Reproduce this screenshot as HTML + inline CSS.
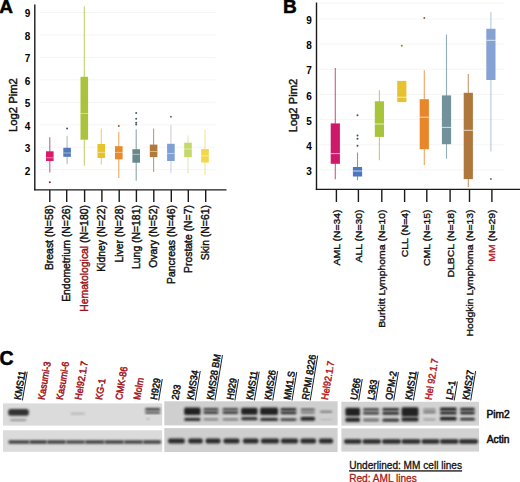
<!DOCTYPE html>
<html><head><meta charset="utf-8"><style>
html,body{margin:0;padding:0;background:#fff;width:520px;height:482px;overflow:hidden}
svg{display:block;font-family:"Liberation Sans", sans-serif}
.t{stroke-width:0.42px}
</style></head><body>
<svg width="520" height="482" viewBox="0 0 520 482">
<text x="-0.7" y="12.9" font-size="19" font-weight="bold" stroke="#000" stroke-width="0.5">A</text>
<line x1="39.5" x2="215.5" y1="169.7" y2="169.7" stroke="#f5f5f5" stroke-width="1"/>
<line x1="39.5" x2="215.5" y1="147.2" y2="147.2" stroke="#f5f5f5" stroke-width="1"/>
<line x1="39.5" x2="215.5" y1="124.8" y2="124.8" stroke="#f5f5f5" stroke-width="1"/>
<line x1="39.5" x2="215.5" y1="102.3" y2="102.3" stroke="#f5f5f5" stroke-width="1"/>
<line x1="39.5" x2="215.5" y1="79.8" y2="79.8" stroke="#f5f5f5" stroke-width="1"/>
<line x1="39.5" x2="215.5" y1="57.4" y2="57.4" stroke="#f5f5f5" stroke-width="1"/>
<line x1="39.5" x2="215.5" y1="35.0" y2="35.0" stroke="#f5f5f5" stroke-width="1"/>
<line x1="39.5" x2="215.5" y1="12.5" y2="12.5" stroke="#f5f5f5" stroke-width="1"/>
<text x="30.3" y="174.6" font-size="10" font-weight="bold" text-anchor="end">2</text>
<text x="30.3" y="152.1" font-size="10" font-weight="bold" text-anchor="end">3</text>
<text x="30.3" y="129.7" font-size="10" font-weight="bold" text-anchor="end">4</text>
<text x="30.3" y="107.2" font-size="10" font-weight="bold" text-anchor="end">5</text>
<text x="30.3" y="84.7" font-size="10" font-weight="bold" text-anchor="end">6</text>
<text x="30.3" y="62.3" font-size="10" font-weight="bold" text-anchor="end">7</text>
<text x="30.3" y="39.9" font-size="10" font-weight="bold" text-anchor="end">8</text>
<text x="30.3" y="17.4" font-size="10" font-weight="bold" text-anchor="end">9</text>
<line x1="34.8" x2="34.8" y1="4.5" y2="190.3" stroke="#1a1a1a" stroke-width="1.4"/>
<line x1="34.1" x2="226.5" y1="189.9" y2="189.9" stroke="#1a1a1a" stroke-width="1.4"/>
<text transform="translate(16.9,132.1) rotate(-90)" font-size="11.3" fill="#111" stroke="#111" class="t">Log2 Pim2</text>
<line x1="49.8" x2="49.8" y1="137.2" y2="172.5" stroke="#a8306a" stroke-width="1.1" opacity="0.75"/>
<rect x="46.00" y="151.3" width="7.6" height="9.70" fill="#d81b6a"/>
<line x1="46.00" x2="53.60" y1="157.8" y2="157.8" stroke="#fff" stroke-width="1" opacity="0.45"/>
<circle cx="49.8" cy="182.2" r="1.0" fill="rgb(151,18,74)"/>
<line x1="49.8" x2="49.8" y1="189.9" y2="202" stroke="#1a1a1a" stroke-width="1.4"/>
<text transform="translate(53.1,205.1) rotate(-90) scale(1.0,1)" font-size="10.4" text-anchor="end" fill="#111" stroke="#111" stroke-width="0.42">Breast (N=58)</text>
<line x1="67.1" x2="67.1" y1="136.0" y2="164.0" stroke="#9ea4b4" stroke-width="1.1" opacity="0.75"/>
<rect x="63.30" y="147.8" width="7.6" height="9.00" fill="#5479bb"/>
<line x1="63.30" x2="70.90" y1="153.0" y2="153.0" stroke="#fff" stroke-width="1" opacity="0.45"/>
<circle cx="67.1" cy="128.5" r="1.0" fill="rgb(58,84,130)"/>
<line x1="66.7" x2="66.7" y1="189.9" y2="202" stroke="#1a1a1a" stroke-width="1.4"/>
<text transform="translate(70.0,205.1) rotate(-90) scale(1.0,1)" font-size="10.4" text-anchor="end" fill="#111" stroke="#111" stroke-width="0.42">Endometrium (N=26)</text>
<line x1="84.3" x2="84.3" y1="6.6" y2="165.8" stroke="#a9c43c" stroke-width="1.1" opacity="0.75"/>
<rect x="80.50" y="76.8" width="7.6" height="62.90" fill="#a9c43c"/>
<line x1="80.50" x2="88.10" y1="113.5" y2="113.5" stroke="#fff" stroke-width="1" opacity="0.45"/>
<line x1="84.6" x2="84.6" y1="189.9" y2="202" stroke="#1a1a1a" stroke-width="1.4"/>
<text transform="translate(87.9,205.1) rotate(-90) scale(1.0,1)" font-size="10.4" text-anchor="end" fill="#111" stroke="#111" stroke-width="0.42"><tspan fill="#9c1218" stroke="#9c1218">Hematological</tspan> (N=180)</text>
<line x1="101.3" x2="101.3" y1="128.5" y2="164.5" stroke="#e8c22a" stroke-width="1.1" opacity="0.75"/>
<rect x="97.50" y="144.0" width="7.6" height="14.00" fill="#e8c22a"/>
<line x1="97.50" x2="105.10" y1="152.4" y2="152.4" stroke="#fff" stroke-width="1" opacity="0.45"/>
<line x1="101.9" x2="101.9" y1="189.9" y2="202" stroke="#1a1a1a" stroke-width="1.4"/>
<text transform="translate(105.2,205.1) rotate(-90) scale(1.0,1)" font-size="10.4" text-anchor="end" fill="#111" stroke="#111" stroke-width="0.42">Kidney (N=22)</text>
<line x1="118.8" x2="118.8" y1="132.0" y2="178.0" stroke="#e8892a" stroke-width="1.1" opacity="0.75"/>
<rect x="115.00" y="146.2" width="7.6" height="13.10" fill="#e8892a"/>
<line x1="115.00" x2="122.60" y1="152.4" y2="152.4" stroke="#fff" stroke-width="1" opacity="0.45"/>
<circle cx="118.8" cy="126.0" r="1.0" fill="rgb(162,95,29)"/>
<line x1="119.2" x2="119.2" y1="189.9" y2="202" stroke="#1a1a1a" stroke-width="1.4"/>
<text transform="translate(122.5,205.1) rotate(-90) scale(1.0,1)" font-size="10.4" text-anchor="end" fill="#111" stroke="#111" stroke-width="0.42">Liver (N=28)</text>
<line x1="136.2" x2="136.2" y1="129.2" y2="180.8" stroke="#68898c" stroke-width="1.1" opacity="0.75"/>
<rect x="132.40" y="149.2" width="7.6" height="13.50" fill="#68898c"/>
<line x1="132.40" x2="140.00" y1="154.4" y2="154.4" stroke="#fff" stroke-width="1" opacity="0.45"/>
<circle cx="136.2" cy="113.0" r="1.0" fill="rgb(72,95,98)"/>
<circle cx="136.2" cy="118.7" r="1.0" fill="rgb(72,95,98)"/>
<circle cx="136.2" cy="122.7" r="1.0" fill="rgb(72,95,98)"/>
<circle cx="136.2" cy="124.6" r="1.0" fill="rgb(72,95,98)"/>
<line x1="136.4" x2="136.4" y1="189.9" y2="202" stroke="#1a1a1a" stroke-width="1.4"/>
<text transform="translate(139.7,205.1) rotate(-90) scale(1.0,1)" font-size="10.4" text-anchor="end" fill="#111" stroke="#111" stroke-width="0.42">Lung (N=181)</text>
<line x1="153.6" x2="153.6" y1="128.5" y2="172.0" stroke="#b07a3c" stroke-width="1.1" opacity="0.75"/>
<rect x="149.80" y="144.6" width="7.6" height="12.50" fill="#b07a3c"/>
<line x1="149.80" x2="157.40" y1="151.5" y2="151.5" stroke="#fff" stroke-width="1" opacity="0.45"/>
<line x1="153.8" x2="153.8" y1="189.9" y2="202" stroke="#1a1a1a" stroke-width="1.4"/>
<text transform="translate(157.1,205.1) rotate(-90) scale(1.0,1)" font-size="10.4" text-anchor="end" fill="#111" stroke="#111" stroke-width="0.42">Ovary (N=52)</text>
<line x1="170.9" x2="170.9" y1="125.0" y2="172.7" stroke="#bcc2cf" stroke-width="1.1" opacity="0.75"/>
<rect x="167.10" y="143.8" width="7.6" height="17.20" fill="#7f9fd6"/>
<line x1="167.10" x2="174.70" y1="153.5" y2="153.5" stroke="#fff" stroke-width="1" opacity="0.45"/>
<circle cx="170.9" cy="116.7" r="1.0" fill="rgb(88,111,149)"/>
<line x1="171.3" x2="171.3" y1="189.9" y2="202" stroke="#1a1a1a" stroke-width="1.4"/>
<text transform="translate(174.6,205.1) rotate(-90) scale(1.0,1)" font-size="10.4" text-anchor="end" fill="#111" stroke="#111" stroke-width="0.42">Pancreas (N=46)</text>
<line x1="188.0" x2="188.0" y1="135.6" y2="173.0" stroke="#d6e096" stroke-width="1.1" opacity="0.75"/>
<rect x="184.20" y="142.7" width="7.6" height="14.40" fill="#c5d86a"/>
<line x1="184.20" x2="191.80" y1="149.0" y2="149.0" stroke="#fff" stroke-width="1" opacity="0.45"/>
<line x1="188.3" x2="188.3" y1="189.9" y2="202" stroke="#1a1a1a" stroke-width="1.4"/>
<text transform="translate(191.6,205.1) rotate(-90) scale(1.0,1)" font-size="10.4" text-anchor="end" fill="#111" stroke="#111" stroke-width="0.42">Prostate (N=7)</text>
<line x1="205.0" x2="205.0" y1="129.8" y2="175.0" stroke="#f0dc70" stroke-width="1.1" opacity="0.75"/>
<rect x="201.20" y="149.0" width="7.6" height="13.50" fill="#f0d84a"/>
<line x1="201.20" x2="208.80" y1="155.8" y2="155.8" stroke="#fff" stroke-width="1" opacity="0.45"/>
<line x1="205.7" x2="205.7" y1="189.9" y2="202" stroke="#1a1a1a" stroke-width="1.4"/>
<text transform="translate(209.0,205.1) rotate(-90) scale(1.0,1)" font-size="10.4" text-anchor="end" fill="#111" stroke="#111" stroke-width="0.42">Skin (N=61)</text>
<text x="283.0" y="12.9" font-size="19" font-weight="bold" stroke="#000" stroke-width="0.5">B</text>
<line x1="319" x2="504" y1="3.1" y2="3.1" stroke="#f3f3f3" stroke-width="1"/>
<line x1="319" x2="504" y1="169.9" y2="169.9" stroke="#f5f5f5" stroke-width="1"/>
<line x1="319" x2="504" y1="144.8" y2="144.8" stroke="#f5f5f5" stroke-width="1"/>
<line x1="319" x2="504" y1="119.6" y2="119.6" stroke="#f5f5f5" stroke-width="1"/>
<line x1="319" x2="504" y1="94.4" y2="94.4" stroke="#f5f5f5" stroke-width="1"/>
<line x1="319" x2="504" y1="69.3" y2="69.3" stroke="#f5f5f5" stroke-width="1"/>
<line x1="319" x2="504" y1="44.1" y2="44.1" stroke="#f5f5f5" stroke-width="1"/>
<line x1="319" x2="504" y1="19.0" y2="19.0" stroke="#f5f5f5" stroke-width="1"/>
<text x="311.8" y="175.0" font-size="10" font-weight="bold" text-anchor="end">3</text>
<text x="311.8" y="149.8" font-size="10" font-weight="bold" text-anchor="end">4</text>
<text x="311.8" y="124.7" font-size="10" font-weight="bold" text-anchor="end">5</text>
<text x="311.8" y="99.5" font-size="10" font-weight="bold" text-anchor="end">6</text>
<text x="311.8" y="74.4" font-size="10" font-weight="bold" text-anchor="end">7</text>
<text x="311.8" y="49.2" font-size="10" font-weight="bold" text-anchor="end">8</text>
<text x="311.8" y="24.1" font-size="10" font-weight="bold" text-anchor="end">9</text>
<line x1="316.5" x2="316.5" y1="2.5" y2="190.1" stroke="#1a1a1a" stroke-width="1.4"/>
<line x1="315.8" x2="520" y1="189.4" y2="189.4" stroke="#1a1a1a" stroke-width="1.4"/>
<text transform="translate(297.3,132.3) rotate(-90)" font-size="11.2" fill="#111" stroke="#111" class="t">Log2 Pim2</text>
<line x1="335.3" x2="335.3" y1="68.0" y2="179.2" stroke="#d0186a" stroke-width="1.1" opacity="0.75"/>
<rect x="330.70" y="123.4" width="9.2" height="40.40" fill="#d0186a"/>
<line x1="330.70" x2="339.90" y1="153.6" y2="153.6" stroke="#fff" stroke-width="1" opacity="0.7"/>
<line x1="336.4" x2="336.4" y1="189.4" y2="202" stroke="#1a1a1a" stroke-width="1.4"/>
<text transform="translate(339.8,209.5) rotate(-90) scale(1.118,1)" font-size="9.3" text-anchor="end" fill="#111" stroke="#111" stroke-width="0.35">AML (N=34)</text>
<line x1="357.5" x2="357.5" y1="152.5" y2="180.3" stroke="#4a78c0" stroke-width="1.1" opacity="0.75"/>
<rect x="352.90" y="167.0" width="9.2" height="9.50" fill="#4a78c0"/>
<line x1="352.90" x2="362.10" y1="171.0" y2="171.0" stroke="#fff" stroke-width="1" opacity="0.7"/>
<circle cx="357.5" cy="115.3" r="1.0" fill="rgb(51,84,134)"/>
<circle cx="357.5" cy="135.5" r="1.0" fill="rgb(51,84,134)"/>
<circle cx="357.5" cy="138.7" r="1.0" fill="rgb(51,84,134)"/>
<circle cx="357.5" cy="145.8" r="1.0" fill="rgb(51,84,134)"/>
<line x1="358.4" x2="358.4" y1="189.4" y2="202" stroke="#1a1a1a" stroke-width="1.4"/>
<text transform="translate(361.8,209.5) rotate(-90) scale(1.118,1)" font-size="9.3" text-anchor="end" fill="#111" stroke="#111" stroke-width="0.35">ALL (N=30)</text>
<line x1="379.4" x2="379.4" y1="90.2" y2="160.3" stroke="#a8c43a" stroke-width="1.1" opacity="0.75"/>
<rect x="374.80" y="101.3" width="9.2" height="35.60" fill="#a8c43a"/>
<line x1="374.80" x2="384.00" y1="124.0" y2="124.0" stroke="#fff" stroke-width="1" opacity="0.7"/>
<line x1="381.8" x2="381.8" y1="189.4" y2="202" stroke="#1a1a1a" stroke-width="1.4"/>
<text transform="translate(385.2,209.5) rotate(-90) scale(1.118,1)" font-size="9.3" text-anchor="end" fill="#111" stroke="#111" stroke-width="0.35">Burkitt Lymphoma (N=10)</text>
<rect x="397.20" y="80.9" width="9.2" height="21.20" fill="#e6c22e"/>
<line x1="397.20" x2="406.40" y1="97.2" y2="97.2" stroke="#fff" stroke-width="1" opacity="0.7"/>
<circle cx="401.8" cy="45.8" r="1.0" fill="rgb(161,135,32)"/>
<line x1="404.6" x2="404.6" y1="189.4" y2="202" stroke="#1a1a1a" stroke-width="1.4"/>
<text transform="translate(408.0,209.5) rotate(-90) scale(1.118,1)" font-size="9.3" text-anchor="end" fill="#111" stroke="#111" stroke-width="0.35">CLL (N=4)</text>
<line x1="424.3" x2="424.3" y1="70.2" y2="165.1" stroke="#e8862a" stroke-width="1.1" opacity="0.75"/>
<rect x="419.70" y="99.2" width="9.2" height="50.00" fill="#e8862a"/>
<line x1="419.70" x2="428.90" y1="117.2" y2="117.2" stroke="#fff" stroke-width="1" opacity="0.7"/>
<circle cx="424.3" cy="18.0" r="1.0" fill="rgb(162,93,29)"/>
<line x1="426.8" x2="426.8" y1="189.4" y2="202" stroke="#1a1a1a" stroke-width="1.4"/>
<text transform="translate(430.2,209.5) rotate(-90) scale(1.118,1)" font-size="9.3" text-anchor="end" fill="#111" stroke="#111" stroke-width="0.35">CML (N=15)</text>
<line x1="446.5" x2="446.5" y1="34.5" y2="158.7" stroke="#71929a" stroke-width="1.1" opacity="0.75"/>
<rect x="441.90" y="95.4" width="9.2" height="48.80" fill="#71929a"/>
<line x1="441.90" x2="451.10" y1="127.4" y2="127.4" stroke="#fff" stroke-width="1" opacity="0.7"/>
<line x1="450.1" x2="450.1" y1="189.4" y2="202" stroke="#1a1a1a" stroke-width="1.4"/>
<text transform="translate(453.5,209.5) rotate(-90) scale(1.118,1)" font-size="9.3" text-anchor="end" fill="#111" stroke="#111" stroke-width="0.35">DLBCL (N=18)</text>
<line x1="468.3" x2="468.3" y1="74.0" y2="187.2" stroke="#b0773c" stroke-width="1.1" opacity="0.75"/>
<rect x="463.70" y="92.8" width="9.2" height="86.30" fill="#b0773c"/>
<line x1="463.70" x2="472.90" y1="130.3" y2="130.3" stroke="#fff" stroke-width="1" opacity="0.7"/>
<line x1="469.5" x2="469.5" y1="189.4" y2="202" stroke="#1a1a1a" stroke-width="1.4"/>
<text transform="translate(472.9,209.5) rotate(-90) scale(1.118,1)" font-size="9.3" text-anchor="end" fill="#111" stroke="#111" stroke-width="0.35">Hodgkin Lymphoma (N=13)</text>
<line x1="490.9" x2="490.9" y1="12.1" y2="151.5" stroke="#a4b2d2" stroke-width="1.1" opacity="0.75"/>
<rect x="486.30" y="28.8" width="9.2" height="51.20" fill="#84a2d4"/>
<line x1="486.30" x2="495.50" y1="40.3" y2="40.3" stroke="#fff" stroke-width="1" opacity="0.7"/>
<circle cx="490.9" cy="179.1" r="1.0" fill="rgb(92,113,148)"/>
<line x1="491.9" x2="491.9" y1="189.4" y2="202" stroke="#1a1a1a" stroke-width="1.4"/>
<text transform="translate(495.3,209.5) rotate(-90) scale(1.118,1)" font-size="9.3" text-anchor="end" fill="#111" stroke="#111" stroke-width="0.35"><tspan fill="#b8222a" stroke="#b8222a">MM</tspan> (N=29)</text>
<text x="-0.4" y="364.6" font-size="19.5" font-weight="bold" stroke="#000" stroke-width="0.5">C</text>
<g transform="translate(20.7,400.2) rotate(-80.5) scale(1,1.08)"><text font-size="9.1" fill="#111" stroke="#111" stroke-width="0.45">KMS11</text><line x1="0" x2="29.17" y1="1.6" y2="1.6" stroke="#111" stroke-width="0.85"/></g>
<g transform="translate(44.4,400.2) rotate(-80.5) scale(1,1.08)"><text font-size="9.1" fill="#a3141b" stroke="#a3141b" stroke-width="0.45">Kasumi-3</text></g>
<g transform="translate(62.8,400.2) rotate(-80.5) scale(1,1.08)"><text font-size="9.1" fill="#a3141b" stroke="#a3141b" stroke-width="0.45">Kasumi-6</text></g>
<g transform="translate(81.3,400.2) rotate(-80.5) scale(1,1.08)"><text font-size="9.1" fill="#a3141b" stroke="#a3141b" stroke-width="0.45">Hel92.1.7</text></g>
<g transform="translate(102.0,400.2) rotate(-80.5) scale(1,1.08)"><text font-size="9.1" fill="#a3141b" stroke="#a3141b" stroke-width="0.45">KG-1</text></g>
<g transform="translate(122.0,400.2) rotate(-80.5) scale(1,1.08)"><text font-size="9.1" fill="#a3141b" stroke="#a3141b" stroke-width="0.45">CMK-86</text></g>
<g transform="translate(140.0,400.2) rotate(-80.5) scale(1,1.08)"><text font-size="9.1" fill="#a3141b" stroke="#a3141b" stroke-width="0.45">Molm</text></g>
<g transform="translate(157.0,400.2) rotate(-80.5) scale(1,1.08)"><text font-size="9.1" fill="#111" stroke="#111" stroke-width="0.45">H929</text><line x1="0" x2="21.75" y1="1.6" y2="1.6" stroke="#111" stroke-width="0.85"/></g>
<g transform="translate(178.3,400.2) rotate(-80.5) scale(1,1.08)"><text font-size="9.1" fill="#111" stroke="#111" stroke-width="0.45">293</text></g>
<g transform="translate(193.6,400.2) rotate(-80.5) scale(1,1.08)"><text font-size="9.1" fill="#111" stroke="#111" stroke-width="0.45">KMS34</text><line x1="0" x2="29.84" y1="1.6" y2="1.6" stroke="#111" stroke-width="0.85"/></g>
<g transform="translate(213.2,400.2) rotate(-80.5) scale(1,1.08)"><text font-size="9.1" fill="#111" stroke="#111" stroke-width="0.45">KMS28 BM</text><line x1="0" x2="46.02" y1="1.6" y2="1.6" stroke="#111" stroke-width="0.85"/></g>
<g transform="translate(233.2,400.2) rotate(-80.5) scale(1,1.08)"><text font-size="9.1" fill="#111" stroke="#111" stroke-width="0.45">H929</text><line x1="0" x2="21.75" y1="1.6" y2="1.6" stroke="#111" stroke-width="0.85"/></g>
<g transform="translate(252.7,400.2) rotate(-80.5) scale(1,1.08)"><text font-size="9.1" fill="#111" stroke="#111" stroke-width="0.45">KMS11</text><line x1="0" x2="29.17" y1="1.6" y2="1.6" stroke="#111" stroke-width="0.85"/></g>
<g transform="translate(271.0,400.2) rotate(-80.5) scale(1,1.08)"><text font-size="9.1" fill="#111" stroke="#111" stroke-width="0.45">KMS26</text><line x1="0" x2="29.84" y1="1.6" y2="1.6" stroke="#111" stroke-width="0.85"/></g>
<g transform="translate(290.3,400.2) rotate(-80.5) scale(1,1.08)"><text font-size="9.1" fill="#111" stroke="#111" stroke-width="0.45">MM1.S</text><line x1="0" x2="28.82" y1="1.6" y2="1.6" stroke="#111" stroke-width="0.85"/></g>
<g transform="translate(308.5,400.2) rotate(-80.5) scale(1,1.08)"><text font-size="9.1" fill="#111" stroke="#111" stroke-width="0.45">RPMI 8226</text><line x1="0" x2="45.52" y1="1.6" y2="1.6" stroke="#111" stroke-width="0.85"/></g>
<g transform="translate(327.8,400.2) rotate(-80.5) scale(1,1.08)"><text font-size="9.1" fill="#b81c24" stroke="#b81c24" stroke-width="0.45">Hel92.1.7</text></g>
<g transform="translate(357.0,400.2) rotate(-80.5) scale(1,1.08)"><text font-size="9.1" fill="#111" stroke="#111" stroke-width="0.45">U266</text><line x1="0" x2="21.75" y1="1.6" y2="1.6" stroke="#111" stroke-width="0.85"/></g>
<g transform="translate(374.0,400.2) rotate(-80.5) scale(1,1.08)"><text font-size="9.1" fill="#111" stroke="#111" stroke-width="0.45">L363</text><line x1="0" x2="20.24" y1="1.6" y2="1.6" stroke="#111" stroke-width="0.85"/></g>
<g transform="translate(392.0,400.2) rotate(-80.5) scale(1,1.08)"><text font-size="9.1" fill="#111" stroke="#111" stroke-width="0.45">OPM-2</text><line x1="0" x2="28.82" y1="1.6" y2="1.6" stroke="#111" stroke-width="0.85"/></g>
<g transform="translate(411.7,400.2) rotate(-80.5) scale(1,1.08)"><text font-size="9.1" fill="#111" stroke="#111" stroke-width="0.45">KMS11</text><line x1="0" x2="29.17" y1="1.6" y2="1.6" stroke="#111" stroke-width="0.85"/></g>
<g transform="translate(431.5,400.2) rotate(-80.5) scale(1,1.08)"><text font-size="9.1" fill="#b81c24" stroke="#b81c24" stroke-width="0.45">Hel 92.1.7</text></g>
<g transform="translate(452.5,400.2) rotate(-80.5) scale(1,1.08)"><text font-size="9.1" fill="#111" stroke="#111" stroke-width="0.45">LP-1</text><line x1="0" x2="19.22" y1="1.6" y2="1.6" stroke="#111" stroke-width="0.85"/></g>
<g transform="translate(469.0,400.2) rotate(-80.5) scale(1,1.08)"><text font-size="9.1" fill="#111" stroke="#111" stroke-width="0.45">KMS27</text><line x1="0" x2="29.84" y1="1.6" y2="1.6" stroke="#111" stroke-width="0.85"/></g>
<defs><filter id="bl" x="-20%" y="-50%" width="140%" height="200%"><feGaussianBlur stdDeviation="1.0"/></filter><filter id="bl2" x="-20%" y="-50%" width="140%" height="200%"><feGaussianBlur stdDeviation="0.9"/></filter><filter id="bl3" x="-20%" y="-50%" width="140%" height="200%"><feGaussianBlur stdDeviation="0.55"/></filter></defs>
<rect x="3.0" y="403.4" width="159.2" height="22.2" fill="#dbdbdb"/>
<rect x="3.0" y="430.3" width="159.2" height="21.5" fill="#dbdbdb"/>
<rect x="164.3" y="401.3" width="173.3" height="24.1" fill="#cfcfcf"/>
<rect x="164.3" y="428.1" width="173.3" height="23.9" fill="#cfcfcf"/>
<rect x="341.4" y="401.8" width="137.6" height="23.8" fill="#d3d3d3"/>
<rect x="341.4" y="428.4" width="137.6" height="23.2" fill="#d3d3d3"/>
<rect x="8.2" y="409.0" width="20.6" height="6.8" rx="2.5" fill="rgb(50,50,50)" filter="url(#bl)"/>
<rect x="10.0" y="418.9" width="16.5" height="2.2" rx="1.5" fill="rgb(146,146,146)" filter="url(#bl)"/>
<rect x="70.5" y="412.8" width="14.5" height="1.8" rx="1.5" fill="rgb(176,176,176)" filter="url(#bl)"/>
<rect x="145.0" y="408.0" width="15.3" height="2.6" rx="1.5" fill="rgb(59,59,59)" filter="url(#bl2)"/>
<rect x="145.0" y="411.4" width="15.3" height="2.4" rx="1.5" fill="rgb(76,76,76)" filter="url(#bl2)"/>
<rect x="146.0" y="418.2" width="4.0" height="1.6" rx="1.5" fill="rgb(173,173,173)" filter="url(#bl2)"/>
<rect x="8.5" y="440.3" width="21.0" height="3.4" rx="1.2" fill="rgb(66,66,66)" filter="url(#bl2)"/>
<rect x="29.5" y="440.3" width="17.5" height="3.4" rx="1.2" fill="rgb(58,58,58)" filter="url(#bl2)"/>
<rect x="47" y="440.3" width="19.0" height="3.4" rx="1.2" fill="rgb(63,63,63)" filter="url(#bl2)"/>
<rect x="66" y="440.3" width="19.0" height="3.4" rx="1.2" fill="rgb(74,74,74)" filter="url(#bl2)"/>
<rect x="85" y="440.3" width="19.5" height="3.4" rx="1.2" fill="rgb(66,66,66)" filter="url(#bl2)"/>
<rect x="104.5" y="440.3" width="19.5" height="3.4" rx="1.2" fill="rgb(66,66,66)" filter="url(#bl2)"/>
<rect x="124" y="440.3" width="19.0" height="3.4" rx="1.2" fill="rgb(69,69,69)" filter="url(#bl2)"/>
<rect x="143" y="440.3" width="18.0" height="3.4" rx="1.2" fill="rgb(63,63,63)" filter="url(#bl2)"/>
<rect x="184.2" y="407.4" width="16.3" height="7.6" rx="1.5" fill="rgb(33,33,33)" filter="url(#bl2)"/>
<rect x="184.2" y="417.8" width="16.3" height="3.2" rx="1.5" fill="rgb(50,50,50)" filter="url(#bl2)"/>
<rect x="203.4" y="407.9" width="15.1" height="2.7" rx="1.5" fill="rgb(59,59,59)" filter="url(#bl2)"/>
<rect x="203.4" y="411.3" width="15.1" height="2.6" rx="1.5" fill="rgb(59,59,59)" filter="url(#bl2)"/>
<rect x="203.4" y="418.3" width="15.1" height="2.3" rx="1.5" fill="rgb(129,129,129)" filter="url(#bl2)"/>
<rect x="222.5" y="408.0" width="15.8" height="2.6" rx="1.5" fill="rgb(68,68,68)" filter="url(#bl2)"/>
<rect x="222.5" y="411.3" width="15.8" height="2.6" rx="1.5" fill="rgb(59,59,59)" filter="url(#bl2)"/>
<rect x="222.5" y="418.3" width="15.8" height="2.3" rx="1.5" fill="rgb(120,120,120)" filter="url(#bl2)"/>
<rect x="241.2" y="407.8" width="16.3" height="7.0" rx="1.5" fill="rgb(33,33,33)" filter="url(#bl2)"/>
<rect x="241.2" y="417.0" width="16.3" height="3.2" rx="1.5" fill="rgb(50,50,50)" filter="url(#bl2)"/>
<rect x="260.2" y="407.6" width="17.8" height="7.4" rx="1.5" fill="rgb(33,33,33)" filter="url(#bl2)"/>
<rect x="260.2" y="417.8" width="17.8" height="3.2" rx="1.5" fill="rgb(50,50,50)" filter="url(#bl2)"/>
<rect x="280.4" y="408.0" width="16.1" height="2.8" rx="1.5" fill="rgb(41,41,41)" filter="url(#bl2)"/>
<rect x="280.4" y="411.5" width="16.1" height="2.7" rx="1.5" fill="rgb(41,41,41)" filter="url(#bl2)"/>
<rect x="280.4" y="418.2" width="16.1" height="2.8" rx="1.5" fill="rgb(68,68,68)" filter="url(#bl2)"/>
<rect x="300.6" y="408.4" width="14.4" height="2.2" rx="1.5" fill="rgb(76,76,76)" filter="url(#bl2)"/>
<rect x="300.6" y="411.4" width="14.4" height="2.2" rx="1.5" fill="rgb(103,103,103)" filter="url(#bl2)"/>
<rect x="300.6" y="416.8" width="14.4" height="4.0" rx="1.5" fill="rgb(41,41,41)" filter="url(#bl2)"/>
<rect x="319.8" y="410.8" width="12.5" height="2.0" rx="1.5" fill="rgb(120,120,120)" filter="url(#bl2)"/>
<rect x="319.8" y="418.8" width="12.5" height="1.4" rx="1.5" fill="rgb(181,181,181)" filter="url(#bl2)"/>
<rect x="168.1" y="438.6" width="16.7" height="5.0" rx="1.8" fill="rgb(41,41,41)" filter="url(#bl2)"/>
<rect x="188.3" y="438.6" width="14.4" height="5.0" rx="1.8" fill="rgb(41,41,41)" filter="url(#bl2)"/>
<rect x="205.6" y="438.6" width="14.9" height="5.0" rx="1.8" fill="rgb(41,41,41)" filter="url(#bl2)"/>
<rect x="223.5" y="438.6" width="16.0" height="5.0" rx="1.8" fill="rgb(41,41,41)" filter="url(#bl2)"/>
<rect x="243" y="438.6" width="15.5" height="5.0" rx="1.8" fill="rgb(41,41,41)" filter="url(#bl2)"/>
<rect x="261" y="438.6" width="18.0" height="5.0" rx="1.8" fill="rgb(41,41,41)" filter="url(#bl2)"/>
<rect x="281" y="438.6" width="17.0" height="5.0" rx="1.8" fill="rgb(41,41,41)" filter="url(#bl2)"/>
<rect x="300.5" y="438.6" width="15.5" height="5.0" rx="1.8" fill="rgb(41,41,41)" filter="url(#bl2)"/>
<rect x="319" y="438.6" width="14.0" height="5.0" rx="1.8" fill="rgb(41,41,41)" filter="url(#bl2)"/>
<rect x="345.4" y="407.8" width="14.6" height="8.2" rx="1.5" fill="rgb(33,33,33)" filter="url(#bl2)"/>
<rect x="345.4" y="417.6" width="14.6" height="4.4" rx="1.5" fill="rgb(41,41,41)" filter="url(#bl2)"/>
<rect x="363.0" y="408.2" width="16.2" height="2.6" rx="1.5" fill="rgb(59,59,59)" filter="url(#bl2)"/>
<rect x="363.0" y="411.8" width="16.2" height="2.8" rx="1.5" fill="rgb(59,59,59)" filter="url(#bl2)"/>
<rect x="363.0" y="418.6" width="16.2" height="2.8" rx="1.5" fill="rgb(111,111,111)" filter="url(#bl2)"/>
<rect x="382.3" y="408.0" width="16.9" height="2.8" rx="1.5" fill="rgb(41,41,41)" filter="url(#bl2)"/>
<rect x="382.3" y="411.8" width="16.9" height="3.0" rx="1.5" fill="rgb(41,41,41)" filter="url(#bl2)"/>
<rect x="382.3" y="418.4" width="16.9" height="3.4" rx="1.5" fill="rgb(59,59,59)" filter="url(#bl2)"/>
<rect x="401.5" y="407.3" width="17.0" height="9.1" rx="1.5" fill="rgb(33,33,33)" filter="url(#bl2)"/>
<rect x="401.5" y="417.2" width="17.0" height="4.2" rx="1.5" fill="rgb(41,41,41)" filter="url(#bl2)"/>
<rect x="423.0" y="408.6" width="12.9" height="1.8" rx="1.5" fill="rgb(129,129,129)" filter="url(#bl2)"/>
<rect x="423.0" y="411.2" width="12.9" height="2.0" rx="1.5" fill="rgb(103,103,103)" filter="url(#bl2)"/>
<rect x="423.0" y="418.6" width="12.9" height="1.8" rx="1.5" fill="rgb(155,155,155)" filter="url(#bl2)"/>
<rect x="439.9" y="407.6" width="16.8" height="3.2" rx="1.5" fill="rgb(33,33,33)" filter="url(#bl2)"/>
<rect x="439.9" y="411.4" width="16.8" height="3.0" rx="1.5" fill="rgb(33,33,33)" filter="url(#bl2)"/>
<rect x="439.9" y="416.8" width="16.8" height="3.8" rx="1.5" fill="rgb(33,33,33)" filter="url(#bl2)"/>
<rect x="460.0" y="407.8" width="14.9" height="3.0" rx="1.5" fill="rgb(41,41,41)" filter="url(#bl2)"/>
<rect x="460.0" y="411.6" width="14.9" height="2.8" rx="1.5" fill="rgb(41,41,41)" filter="url(#bl2)"/>
<rect x="460.0" y="417.8" width="14.9" height="2.8" rx="1.5" fill="rgb(50,50,50)" filter="url(#bl2)"/>
<rect x="344" y="439.2" width="17.5" height="4.6" rx="1.8" fill="rgb(41,41,41)" filter="url(#bl2)"/>
<rect x="362.5" y="439.2" width="18.5" height="4.6" rx="1.8" fill="rgb(41,41,41)" filter="url(#bl2)"/>
<rect x="382" y="439.2" width="19.0" height="4.6" rx="1.8" fill="rgb(41,41,41)" filter="url(#bl2)"/>
<rect x="401.5" y="439.2" width="19.0" height="4.6" rx="1.8" fill="rgb(41,41,41)" filter="url(#bl2)"/>
<rect x="421.5" y="439.2" width="18.0" height="4.6" rx="1.8" fill="rgb(41,41,41)" filter="url(#bl2)"/>
<rect x="440" y="439.2" width="18.5" height="4.6" rx="1.8" fill="rgb(41,41,41)" filter="url(#bl2)"/>
<rect x="459" y="439.2" width="19.0" height="4.6" rx="1.8" fill="rgb(41,41,41)" filter="url(#bl2)"/>
<text x="486.5" y="417.8" font-size="10.2" fill="#111" stroke="#111" stroke-width="0.55">Pim2</text>
<text x="486.8" y="443.0" font-size="10.2" fill="#111" stroke="#111" stroke-width="0.55">Actin</text>
<text x="349.2" y="469.4" font-size="10.1" fill="#111" stroke="#111" stroke-width="0.3" text-decoration="underline">Underlined: MM cell lines</text>
<text x="349.2" y="481.8" font-size="10.1" fill="#a51c20" stroke="#a51c20" stroke-width="0.3">Red: AML lines</text>
</svg>
</body></html>
